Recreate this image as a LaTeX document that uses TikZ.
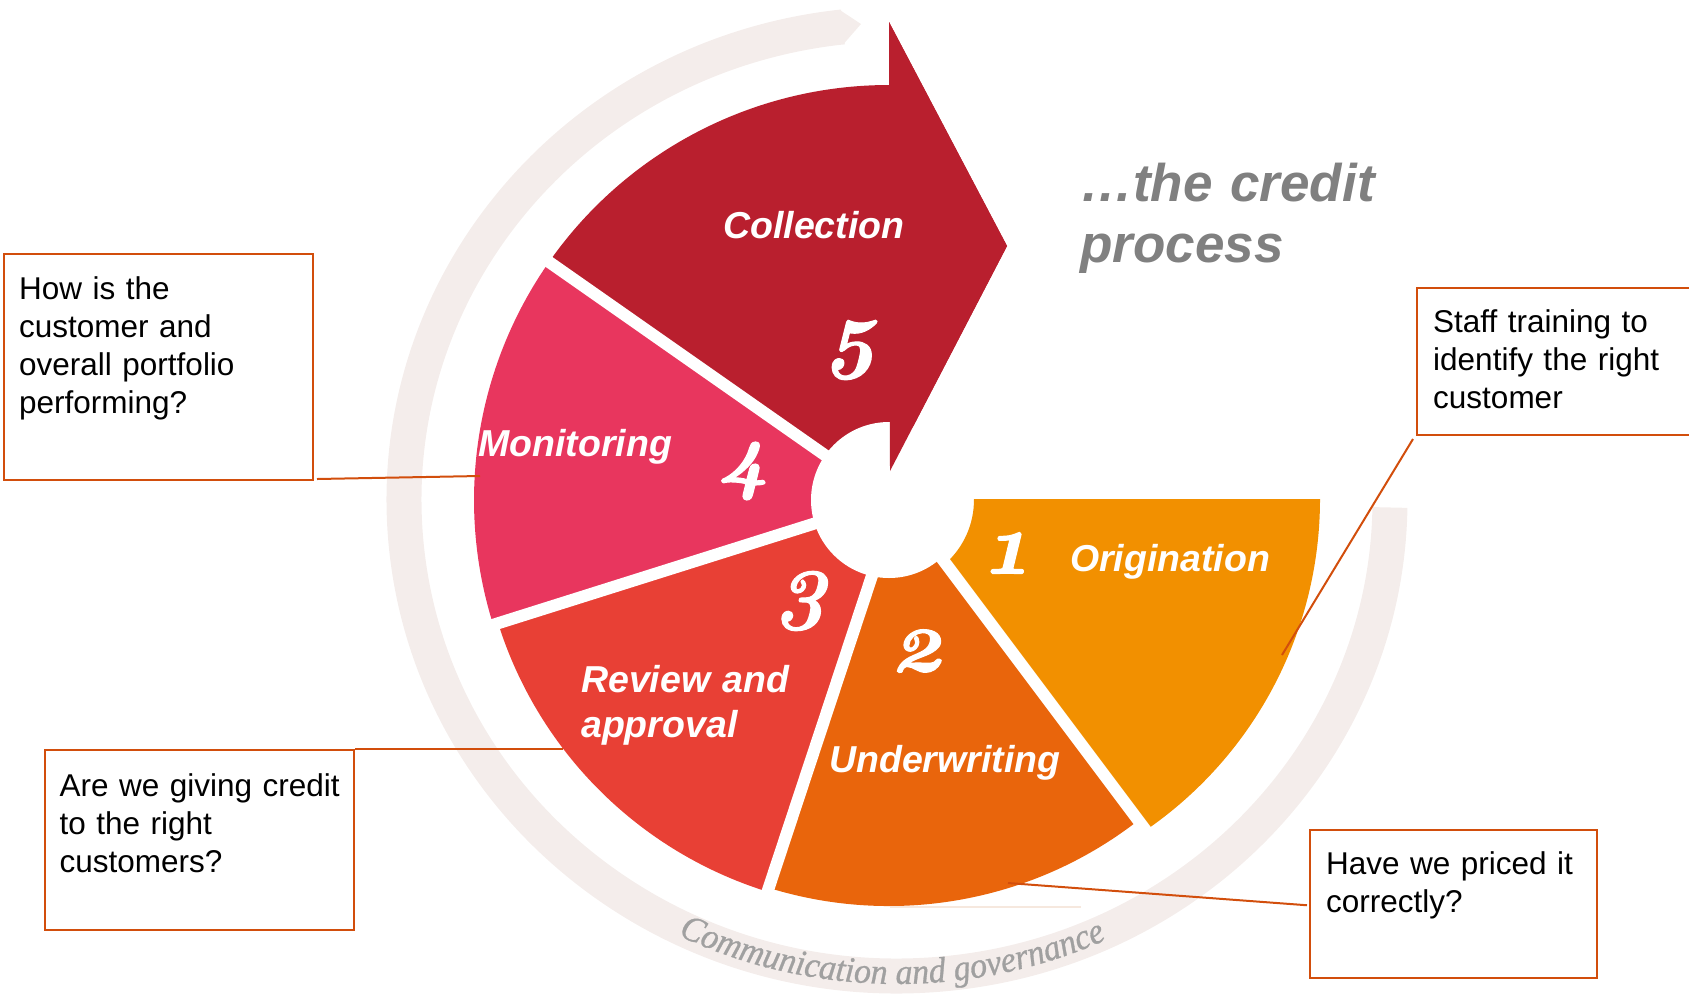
\documentclass[tikz,border=0pt]{standalone}
\usepackage{fontspec}
\newfontfamily\arialf{Liberation Sans}
\newfontfamily\govf{Liberation Serif}[FakeBold=0.8,FakeStretch=0.94]
\newfontfamily\numf{lmroman10-bolditalic.otf}[Numbers=OldStyle,FakeBold=1.2]
\usetikzlibrary{decorations.text}
\definecolor{cFive}{RGB}{185,31,46}
\definecolor{cFour}{RGB}{232,54,94}
\definecolor{cThree}{RGB}{232,64,53}
\definecolor{cTwo}{RGB}{233,101,12}
\definecolor{cOne}{RGB}{242,144,0}
\definecolor{bandc}{RGB}{244,237,235}
\definecolor{boxc}{RGB}{210,78,12}
\definecolor{titlegray}{RGB}{128,128,128}
\definecolor{commgray}{RGB}{160,160,160}
\definecolor{faintc}{RGB}{246,232,222}
\begin{document}
\begin{tikzpicture}[x=1pt,y=-1pt,
  seglabel/.style={text=white, font=\arialf\bfseries\itshape\fontsize{37.5}{45}\selectfont, inner sep=0pt, anchor=base west, align=left, text width=260pt},
  num/.style={text=white, font=\numf\fontsize{88}{88}\selectfont, inner sep=0pt},
  box/.style={draw=boxc, line width=2pt, inner sep=0pt, anchor=north west},
  boxtext/.style={font=\arialf\fontsize{31.5}{38}\selectfont, text width=300pt, align=left, inner sep=0pt, anchor=base west},
  conn/.style={draw=boxc, line width=2pt},
  gap/.style={draw=white, line width=12pt},
  titletext/.style={text=titlegray, font=\arialf\bfseries\itshape\fontsize{53}{61}\selectfont, inner sep=0pt, anchor=base west, align=left, text width=420pt}
]
\useasboundingbox (0,0) rectangle (1689,994);
\clip (0,0) rectangle (1689,994);
\coordinate (C) at (889,500);

% governance band
\draw[bandc, line width=35pt] (897,500) ++(263.7:493 and 476)
  arc[start angle=263.7, end angle=0.9, x radius=493, y radius=476];
\fill[bandc] (839.5,9.8) -- (861,24) -- (843,44.6) -- cycle;
\path[decorate, decoration={text along path, text align=center, text color=commgray,
  text={|\govf\itshape\fontsize{36}{36}\selectfont|Communication and governance}}]
  (897,500) ++(125.6:501 and 484) arc[start angle=125.6, end angle=55.6, x radius=501, y radius=484];

% segments
\fill[cFive] (C) -- ++(215:415) arc[start angle=215, end angle=270, radius=415]
  -- (889,22) -- (1007,246) -- (890,471) -- cycle;
\fill[cFour] (C) -- ++(162.5:415) arc[start angle=162.5, end angle=215, radius=415] -- cycle;
\fill[cThree] (897,500) -- (767.3,891.6) arc[start angle=107.3, end angle=162.5, radius=410] -- (C) -- cycle;
\fill[cTwo] (898,500) -- (1138.3,820.4) arc[start angle=52.1, end angle=107.25, radius=406] -- (897,500) -- cycle;
\fill[cOne] (974,499) -- (1320,499) arc[start angle=0, end angle=55.5, radius=402]
  -- (945.6,563.4) arc[start angle=48.2, end angle=0, radius=85] -- cycle;

\draw[gap] (C) -- ++(215:440);
\draw[gap] (C) -- ++(162.5:440);
\draw[gap] (897,500) -- ++(108.3:440);
\draw[gap] (898,500) -- ++(53.13:440);
\fill[white] (C) circle[radius=78];
\fill[cFive] (889,22) -- (1007,246) -- (890,471) -- cycle;
\draw[faintc, line width=1.2pt] (890,907) -- (1081,907);

% labels
\node[seglabel] (lColl) at (723,238) {Collection};
\node[seglabel] (lMon) at (478,456) {Monitoring};
\node[seglabel] (lOrig) at (1070,571) {Origination};
\node[seglabel] (lUnd) at (829,772) {Underwriting};
\node[seglabel] (lRev) at (581,692) {Review and\\approval};
\node[num] (n5) at (852,350) {5};
\node[num] (n4) at (743,471) {4};
\node[num] (n3) at (802,601) {3};
\node[num] (n2) at (918,651) {2};
\node[num] (n1) at (1006,553) {1};

\node[titletext] (title) at (1080,201) {…the credit\\process};

% boxes
\node[box, minimum width=309pt, minimum height=226pt] (bA) at (3,253) {};
\node[box, minimum width=300pt, minimum height=147pt] (bB) at (1416,287) {};
\node[box, minimum width=309.5pt, minimum height=179.5pt] (bC) at (43.5,749) {};
\node[box, minimum width=287pt, minimum height=148.5pt] (bD) at (1309,828.5) {};
\node[boxtext] (tA) at (19,299.5) {How is the\\customer and\\overall portfolio\\performing?};
\node[boxtext] (tB) at (1433,332.7) {Staff training to\\identify the right\\customer};
\node[boxtext] (tC) at (59.5,796) {Are we giving credit\\to the right\\customers?};
\node[boxtext] (tD) at (1326,874) {Have we priced it\\correctly?};

% connectors
\coordinate (pA) at (480,476);
\coordinate (pB) at (1282,655);
\coordinate (pC) at (563,749);
\coordinate (pD) at (1008,883);
\draw[conn] ([shift={(3,-2)}]bA.south east) -- (pA);
\draw[conn] ([shift={(-3,3)}]bB.south west) -- (pB);
\draw[conn] (bC.north east) -- (pC);
\draw[conn] ([shift={(-2,1.5)}]bD.west) -- (pD);
\end{tikzpicture}
\end{document}
